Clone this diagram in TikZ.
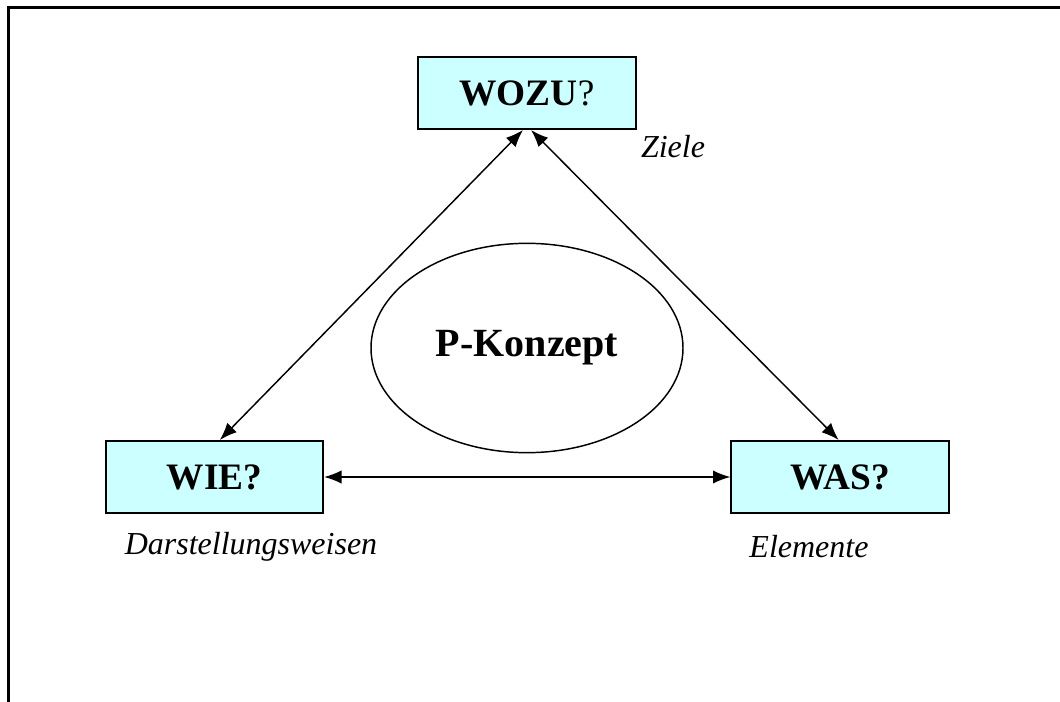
\documentclass[tikz,border=0pt]{standalone}
\usepackage{fontspec}
\setmainfont{Liberation Serif}
\usepackage{xcolor}
\usepackage{tikz}
\usetikzlibrary{shapes,arrows,arrows.meta}
\usetikzlibrary{calc}
\definecolor{boxcyan}{HTML}{CCFFFF}
\tikzset{
    frage/.style={draw, line width=1.5pt, fill=boxcyan, inner sep=0pt, minimum width=163pt, minimum height=54pt, font=\fontsize{28}{32}\selectfont\bfseries},
    kern/.style={draw, ellipse, line width=1.1pt, inner sep=0pt, minimum width=234pt, minimum height=157pt, font=\fontsize{30}{34}\selectfont\bfseries},
    hinweis/.style={inner sep=0pt, font=\fontsize{24}{28}\selectfont\itshape},
    pfeil/.style={line width=1.1pt, {Latex[length=13pt,width=10pt]}-{Latex[length=13pt,width=10pt]}}}

\begin{document}
\begin{tikzpicture}[x=0.75pt,y=-0.75pt]
\useasboundingbox (0,0) rectangle (1060,702);
% Rahmen
\draw[line width=2.3pt] (8.6,702) -- (8.6,7.5) -- (1060,7.5);

\node[frage] (wozu) at (527,93) {WOZU\textmd{?}};
\node[frage] (wie) at (214.5,477) {WIE?};
\node[frage] (was) at (840,477) {WAS?};
\node[kern] (pk) at (527,348) {P-Konzept};

\node[hinweis] (ziele) at (673,147) {Ziele};
\node[hinweis] (darst) at (251,547) {Darstellungsweisen};
\node[hinweis] (elem) at (809,547) {Elemente};

\draw[pfeil] ([xshift=-3pt]wozu.south) -- ([xshift=4pt]wie.north);
\draw[pfeil] ([xshift=3pt]wozu.south) -- ([xshift=-1pt]was.north);
\draw[pfeil] (wie.east) -- (was.west);
\end{tikzpicture}
\end{document}
